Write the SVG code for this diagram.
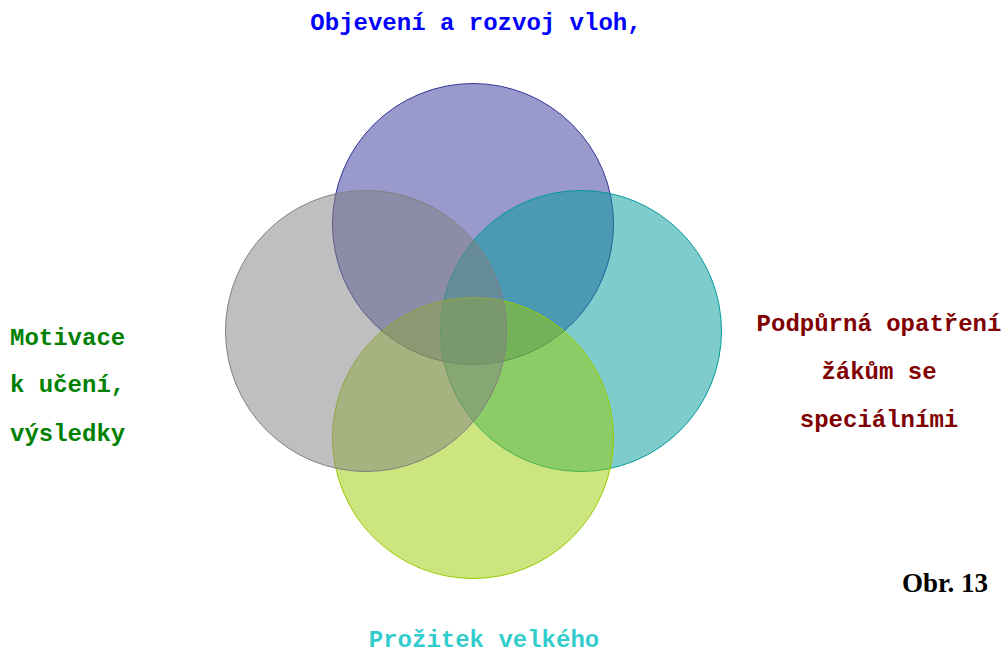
<svg xmlns="http://www.w3.org/2000/svg" width="1003" height="652" viewBox="0 0 1003 652">
<style>
.c{stroke-width:1}
.t{font-family:"Liberation Mono","Courier New",monospace;font-weight:bold;font-size:24px}
</style>
<rect width="1003" height="652" fill="#ffffff"/>
<g id="top"><circle class="c" cx="473" cy="224" r="140.5" fill="#333399" fill-opacity="0.5" stroke="#333399"/></g>
<g id="right"><circle class="c" cx="581" cy="331" r="140.5" fill="#009999" fill-opacity="0.5" stroke="#009999"/></g>
<g id="bottom"><circle class="c" cx="473" cy="438" r="140.5" fill="#99cc00" fill-opacity="0.5" stroke="#99cc00"/></g>
<g id="left"><circle class="c" cx="366" cy="331" r="140.5" fill="#808080" fill-opacity="0.5" stroke="#808080"/></g>
<g id="connectors"></g>
<g id="label-top"><text class="t" x="476" y="30" text-anchor="middle" fill="#0000ff">Objevení a rozvoj vloh,</text></g>
<g id="label-left" class="t" fill="#008000">
<text x="10" y="345">Motivace</text>
<text x="10" y="392">k učení,</text>
<text x="10" y="441">výsledky</text>
</g>
<g id="label-right" class="t" fill="#800000" text-anchor="middle">
<text x="879" y="331">Podpůrná opatření</text>
<text x="879" y="379">žákům se</text>
<text x="879" y="427">speciálními</text>
</g>
<g id="label-bottom"><text class="t" x="484" y="647" text-anchor="middle" fill="#33cccc">Prožitek velkého</text></g>
<g id="caption"><text x="988" y="592" text-anchor="end" font-family="'Liberation Serif','Times New Roman',serif" font-weight="bold" font-size="27">Obr. 13</text></g>
</svg>
